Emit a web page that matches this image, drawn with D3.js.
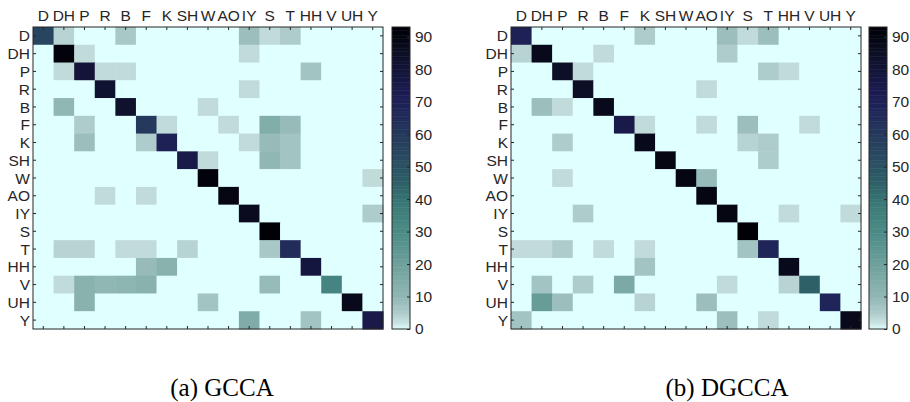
<!DOCTYPE html>
<html>
<head>
<meta charset="utf-8">
<script src="https://cdn.jsdelivr.net/npm/d3@7"></script>
<style>
  body { margin: 0; background: #fff; }
  svg text { font-family: "Liberation Sans", Arial, sans-serif; }
</style>
</head>
<body>
<div id="chart"></div>
<script>
const phones = ['D', 'DH', 'P', 'R', 'B', 'F', 'K', 'SH', 'W', 'AO', 'IY', 'S', 'T', 'HH', 'V', 'UH', 'Y'];
const colorTicks = [0, 10, 20, 30, 40, 50, 60, 70, 80, 90];

// non-zero cells: [row, col, value]
const gccaCells = [
  [0, 0, 55], [0, 1, 4], [0, 4, 6], [0, 10, 8], [0, 11, 3], [0, 12, 5],
  [1, 1, 92], [1, 2, 3], [1, 10, 3],
  [2, 1, 3], [2, 2, 80], [2, 3, 3], [2, 4, 3], [2, 13, 7],
  [3, 3, 82], [3, 10, 3],
  [4, 1, 10], [4, 4, 83], [4, 8, 3],
  [5, 2, 5], [5, 5, 60], [5, 6, 3], [5, 9, 3], [5, 11, 14], [5, 12, 9],
  [6, 2, 8], [6, 5, 5], [6, 6, 70], [6, 10, 3], [6, 11, 9], [6, 12, 7],
  [7, 7, 75], [7, 8, 3], [7, 11, 10], [7, 12, 7],
  [8, 8, 92], [8, 16, 3],
  [9, 3, 3], [9, 5, 3], [9, 9, 90],
  [10, 10, 87], [10, 16, 5],
  [11, 11, 93],
  [12, 1, 4], [12, 2, 4], [12, 4, 3], [12, 5, 3], [12, 7, 4], [12, 11, 6], [12, 12, 65],
  [13, 5, 9], [13, 6, 12], [13, 13, 78],
  [14, 1, 3], [14, 2, 12], [14, 3, 10], [14, 4, 11], [14, 5, 12], [14, 11, 9], [14, 14, 33],
  [15, 2, 12], [15, 8, 7], [15, 15, 88],
  [16, 10, 15], [16, 13, 7], [16, 16, 75]
];

const dgccaCells = [
  [0, 0, 70], [0, 6, 5], [0, 10, 8], [0, 11, 3], [0, 12, 8],
  [1, 0, 4], [1, 1, 88], [1, 4, 3], [1, 10, 5],
  [2, 2, 85], [2, 3, 3], [2, 12, 5], [2, 13, 3],
  [3, 3, 85], [3, 9, 3],
  [4, 1, 8], [4, 2, 3], [4, 4, 88],
  [5, 5, 75], [5, 6, 3], [5, 9, 3], [5, 11, 8], [5, 14, 3],
  [6, 2, 5], [6, 6, 88], [6, 11, 4], [6, 12, 5],
  [7, 7, 90], [7, 12, 5],
  [8, 2, 3], [8, 8, 90], [8, 9, 9],
  [9, 9, 90],
  [10, 3, 5], [10, 10, 90], [10, 13, 3], [10, 16, 3],
  [11, 11, 93],
  [12, 0, 3], [12, 1, 3], [12, 2, 5], [12, 4, 3], [12, 6, 3], [12, 11, 7], [12, 12, 68],
  [13, 6, 7], [13, 13, 88],
  [14, 1, 7], [14, 3, 5], [14, 5, 16], [14, 10, 3], [14, 13, 4], [14, 14, 45],
  [15, 1, 22], [15, 2, 8], [15, 6, 4], [15, 9, 8], [15, 15, 68],
  [16, 0, 7], [16, 10, 8], [16, 12, 3], [16, 16, 88]
];

const vmax = 93;
const color = d3.scaleLinear()
  .domain([0, 2, 5, 10, 20, 30, 38, 45, 55, 65, 72, 85, 93])
  .range(['#e0ffff', '#c9e2e2', '#aecccb', '#90b7b4', '#6ea09c', '#4b8a85', '#3b7b78',
          '#2e6068', '#28455f', '#212c5a', '#1c1c55', '#0d0f26', '#000006'])
  .clamp(true);

const W = 910, H = 402;
const fs = '15.5px';
const svg = d3.select('#chart').append('svg').attr('width', W).attr('height', H);

function drawPanel(left, cbLeft, cells, caption, capX) {
  const top = 27, w = 350, h = 302;
  const g = svg.append('g');
  const x = d3.scaleBand().domain(d3.range(phones.length)).range([left, left + w]);
  const y = d3.scaleBand().domain(d3.range(phones.length)).range([top, top + h]);

  // full matrix incl. zeros
  const grid = [];
  for (let r = 0; r < phones.length; r++)
    for (let c = 0; c < phones.length; c++) grid.push([r, c, 0]);
  cells.forEach(d => { grid[d[0] * phones.length + d[1]][2] = d[2]; });

  g.selectAll('rect.cell').data(grid).join('rect')
    .attr('class', 'cell')
    .attr('x', d => x(d[1]))
    .attr('y', d => y(d[0]))
    .attr('width', x.bandwidth() + 0.5)
    .attr('height', y.bandwidth() + 0.5)
    .attr('fill', d => color(d[2]));

  // axis box
  g.append('rect')
    .attr('x', left).attr('y', top).attr('width', w).attr('height', h)
    .attr('fill', 'none').attr('stroke', '#262626').attr('stroke-width', 1);

  const tk = 3;
  const tickG = g.append('g').attr('stroke', '#262626').attr('stroke-width', 1);
  phones.forEach((p, i) => {
    const cx = x(i) + x.bandwidth() / 2;
    const cy = y(i) + y.bandwidth() / 2;
    tickG.append('line').attr('x1', cx).attr('x2', cx).attr('y1', top).attr('y2', top + tk);
    tickG.append('line').attr('x1', cx).attr('x2', cx).attr('y1', top + h).attr('y2', top + h - tk);
    tickG.append('line').attr('y1', cy).attr('y2', cy).attr('x1', left).attr('x2', left + tk);
    tickG.append('line').attr('y1', cy).attr('y2', cy).attr('x1', left + w).attr('x2', left + w - tk);
  });

  g.selectAll('text.xl').data(phones).join('text')
    .attr('class', 'xl')
    .attr('x', (d, i) => x(i) + x.bandwidth() / 2)
    .attr('y', top - 6)
    .attr('text-anchor', 'middle')
    .attr('fill', '#262626')
    .style('font-size', fs)
    .text(d => d);

  g.selectAll('text.yl').data(phones).join('text')
    .attr('class', 'yl')
    .attr('x', left - 3)
    .attr('y', (d, i) => y(i) + y.bandwidth() / 2)
    .attr('dy', '0.36em')
    .attr('text-anchor', 'end')
    .attr('fill', '#262626')
    .style('font-size', fs)
    .text(d => d);

  // colorbar
  const cbW = 18;
  const cy = d3.scaleLinear().domain([0, vmax]).range([top + h, top]);
  const steps = d3.range(0, vmax, 0.5);
  g.selectAll('rect.cb').data(steps).join('rect')
    .attr('class', 'cb')
    .attr('x', cbLeft)
    .attr('y', d => cy(d + 0.5))
    .attr('width', cbW)
    .attr('height', d => cy(d) - cy(d + 0.5) + 0.5)
    .attr('fill', d => color(d + 0.25));
  g.append('rect')
    .attr('x', cbLeft).attr('y', top).attr('width', cbW).attr('height', h)
    .attr('fill', 'none').attr('stroke', '#262626');
  const cbAxis = d3.axisRight(cy).tickValues(colorTicks).tickSize(-3).tickPadding(5);
  const ag = g.append('g').attr('transform', `translate(${cbLeft + cbW},0)`).call(cbAxis);
  ag.select('.domain').remove();
  ag.selectAll('line').attr('stroke', '#262626');
  ag.selectAll('text').attr('fill', '#262626').style('font-size', fs)
    .style('font-family', '"Liberation Sans", Arial, sans-serif');

  g.append('text')
    .attr('x', capX)
    .attr('y', 396)
    .attr('text-anchor', 'middle')
    .attr('fill', '#000')
    .style('font-family', '"Liberation Serif", "Times New Roman", serif')
    .style('font-size', '25px')
    .text(caption);
}

drawPanel(33, 392, gccaCells, '(a) GCCA', 222);
drawPanel(511, 869, dgccaCells, '(b) DGCCA', 727);
</script>
</body>
</html>
